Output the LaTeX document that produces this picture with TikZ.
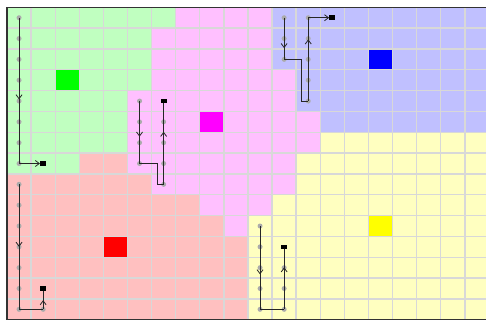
\documentclass[tikz,border=0pt]{standalone}
\usetikzlibrary{arrows.meta, decorations.markings}
\definecolor{cGreen}{HTML}{C0FFC0}
\definecolor{cPink}{HTML}{FFC0FF}
\definecolor{cBlue}{HTML}{C0C0FF}
\definecolor{cYellow}{HTML}{FFFFC0}
\definecolor{cRed}{HTML}{FFC0C0}
\definecolor{dGreen}{HTML}{00FF00}
\definecolor{dPink}{HTML}{FF00FF}
\definecolor{dBlue}{HTML}{0000FF}
\definecolor{dYellow}{HTML}{FFFF00}
\definecolor{dRed}{HTML}{FF0000}
\definecolor{cGrid}{HTML}{D8D8D8}
\definecolor{cFrame}{HTML}{333333}
\definecolor{cPath}{HTML}{262626}
\definecolor{cDot}{HTML}{ABABAB}

\begin{document}
\begin{tikzpicture}[x=24.1bp, y=-20.83bp,
  wp/.style={circle, fill=cDot, inner sep=0pt, minimum size=5bp},
  goal/.style={rectangle, fill=black, inner sep=0pt, minimum width=6bp, minimum height=4.5bp},
  route/.style={draw=cPath, line width=0.8bp},
  gridline/.style={draw=cGrid, line width=1.4bp},
  midarr/.style={postaction={decorate}, decoration={markings, mark=at position #1 with {\arrow{Straight Barb[length=4bp, width=6bp]}}}},
  arr/.style={-{Straight Barb[length=4bp, width=6bp]}}]
  \useasboundingbox (-0.2905,-0.3505) rectangle (19.876,15.012);
  \clip (-0.2905,-0.3505) rectangle (19.876,15.012);
  \fill[cGreen] (0,0) -- (7,0) -- (7,1) -- (6,1) -- (6,4) -- (5,4) -- (5,7) -- (3,7) -- (3,8) -- (0,8) -- cycle;
  \fill[cPink] (7,0) -- (11,0) -- (11,3) -- (12,3) -- (12,5) -- (13,5) -- (13,7) -- (12,7) -- (12,9) -- (11,9)
    -- (11,10) -- (10,10) -- (10,11) -- (9,11) -- (9,10) -- (8,10) -- (8,9) -- (6,9) -- (6,8) -- (5,8)
    -- (5,4) -- (6,4) -- (6,1) -- (7,1) -- cycle;
  \fill[cBlue] (11,0) -- (20,0) -- (20,6) -- (13,6) -- (13,5) -- (12,5) -- (12,3) -- (11,3) -- cycle;
  \fill[cYellow] (13,6) -- (20,6) -- (20,15) -- (10,15) -- (10,10) -- (11,10) -- (11,9) -- (12,9) -- (12,7) -- (13,7) -- cycle;
  \fill[cRed] (3,7) -- (5,7) -- (5,8) -- (6,8) -- (6,9) -- (8,9) -- (8,10) -- (9,10) -- (9,11) -- (10,11)
    -- (10,15) -- (0,15) -- (0,8) -- (3,8) -- cycle;
  \fill[dGreen] (2,3) rectangle (3,4);
  \fill[dPink] (8,5) rectangle (9,6);
  \fill[dBlue] (15,2) rectangle (16,3);
  \fill[dRed] (4,11) rectangle (5,12);
  \fill[dYellow] (15,10) rectangle (16,11);
  \foreach \i in {1,...,19} \draw[gridline] (\i,0) -- (\i,15);
  \foreach \j in {1,...,14} \draw[gridline] (0,\j) -- (20,\j);
  \draw[cFrame, line width=1.2bp] (0,0) rectangle (20,15);

  \foreach \r in {0,...,7} \node[wp] (g\r) at (0.5,\r+0.5) {};
  \node[goal] (gGoal) at (1.5,7.5) {};
  \draw[route, midarr=0.56] (g0.center) -- (g7.center);
  \draw[route, arr] (g7.center) -- (gGoal);

  \foreach \r in {4,...,7} \node[wp] (pa\r) at (5.5,\r+0.5) {};
  \foreach \r in {5,...,8} \node[wp] (pb\r) at (6.5,\r+0.5) {};
  \node[goal] (pGoal) at (6.5,4.5) {};
  \coordinate (pj1) at (6.22,7.5);
  \coordinate (pj2) at (6.22,8.5);
  \draw[route, midarr=0.57] (pa4.center) -- (pa7.center);
  \draw[route] (pa7.center) -- (pj1) -- (pj2) -- (pb8.center);
  \draw[route, midarr=0.65] (pb8.center) -- (pGoal);

  \foreach \r in {0,...,2} \node[wp] (ba\r) at (11.5,\r+0.5) {};
  \foreach \r in {0,...,4} \node[wp] (bb\r) at (12.5,\r+0.5) {};
  \node[goal] (bGoal) at (13.5,0.5) {};
  \coordinate (bj1) at (12.22,2.5);
  \coordinate (bj2) at (12.22,4.5);
  \draw[route, midarr=0.73] (ba0.center) -- (ba2.center);
  \draw[route] (ba2.center) -- (bj1) -- (bj2) -- (bb4.center);
  \draw[route, midarr=0.74] (bb4.center) -- (bb0.center);
  \draw[route, arr] (bb0.center) -- (bGoal);

  \foreach \r in {8,...,14} \node[wp] (ra\r) at (0.5,\r+0.5) {};
  \node[wp] (rb14) at (1.5,14.5) {};
  \node[goal] (rGoal) at (1.5,13.5) {};
  \draw[route, midarr=0.5] (ra8.center) -- (ra14.center);
  \draw[route] (ra14.center) -- (rb14.center);
  \draw[route, midarr=0.5] (rb14.center) -- (rGoal);

  \foreach \r in {10,...,14} \node[wp] (ya\r) at (10.5,\r+0.5) {};
  \foreach \r in {12,...,14} \node[wp] (yb\r) at (11.5,\r+0.5) {};
  \node[goal] (yGoal) at (11.5,11.5) {};
  \draw[route, midarr=0.58] (ya10.center) -- (ya14.center);
  \draw[route] (ya14.center) -- (yb14.center);
  \draw[route, midarr=0.7] (yb14.center) -- (yGoal);
\end{tikzpicture}
\end{document}
